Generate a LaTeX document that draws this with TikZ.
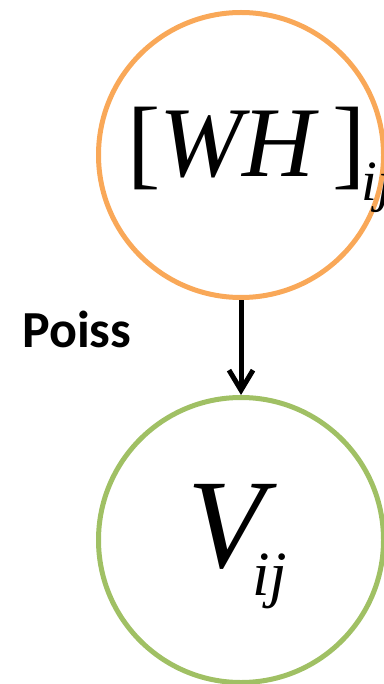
\documentclass[tikz,border=0pt]{standalone}
\usepackage{fontspec}
\setmainfont{Liberation Serif}
\newfontfamily\labfont{Carlito}
\usetikzlibrary{arrows.meta}
\definecolor{orangeC}{RGB}{249,168,88}
\definecolor{greenC}{RGB}{160,192,100}
\tikzset{
  varnode/.style={circle, line width=5pt, minimum size=285pt, inner sep=0pt},
  arr/.style={line width=5pt, -{Straight Barb[length=20pt,width=24pt,line width=5pt]}}
}
\begin{document}
\begin{tikzpicture}[x=1pt,y=-1pt]
\useasboundingbox (0,0) rectangle (383,684);
\node[varnode, draw=orangeC] (wh) at (241,155) {};
\node[varnode, draw=greenC] (v) at (241,540) {};
\draw[arr] (wh.south) -- (v.north);
\node[anchor=base west, inner sep=0pt] (whtxt) at (127,177)
  {\fontsize{100}{100}\selectfont [\kern -1pt{\itshape WH}\kern 17pt]\kern -4pt\raisebox{-24pt}{\fontsize{57}{57}\selectfont\itshape ij}};
\node[anchor=base west, inner sep=0pt] (vtxt) at (187,567)
  {\fontsize{127}{127}\selectfont\itshape V};
\node[anchor=base west, inner sep=0pt] (vsub) at (252,595)
  {\fontsize{63}{63}\selectfont\itshape ij};
\node[anchor=base west, inner sep=0pt] (poiss) at (22,347)
  {\labfont\bfseries\fontsize{52}{52}\selectfont Poiss};
\end{tikzpicture}
\end{document}
